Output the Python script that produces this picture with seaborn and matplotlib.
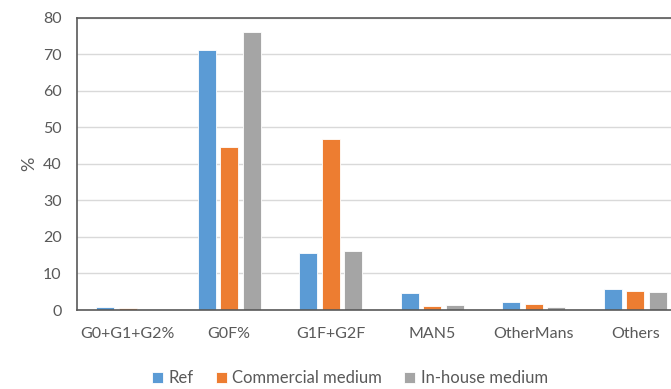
#!/usr/bin/env python3
"""
Glycan profile comparison bar chart (Ref vs. media).
"""
import pandas as pd
import matplotlib
matplotlib.use("Agg")
import matplotlib.pyplot as plt
import seaborn as sns

# Data
categories = ["G0+G1+G2%", "G0F%", "G1F+G2F", "MAN5", "OtherMans", "Others"]
series = ["Ref", "Commercial medium", "In-house medium"]
ref_values = [0.8, 71.0, 15.5, 4.6, 2.2, 5.7]
commercial_values = [0.5, 44.5, 46.8, 1.1, 1.7, 5.2]
inhouse_values = [0.4, 76.0, 16.2, 1.4, 0.8, 4.8]
y_ticks = [0, 10, 20, 30, 40, 50, 60, 70, 80]

colors = ["#5B9BD5", "#ED7D31", "#A5A5A5"]
text_color = "#595959"

# Long-form table for seaborn
df = pd.DataFrame({
    "category": categories * 3,
    "series": [series[0]] * 6 + [series[1]] * 6 + [series[2]] * 6,
    "value": ref_values + commercial_values + inhouse_values,
})

sns.set_style("white")
plt.rcParams["font.family"] = ["Lato", "DejaVu Sans"]

fig = plt.figure(figsize=(6.71, 3.89), dpi=100)
# axes run a bit past the right edge, as in the cropped original
ax = fig.add_axes([77 / 671, 1 - 310 / 389, (686 - 77) / 671, (310 - 17.5) / 389])

sns.barplot(
    data=df, x="category", y="value", hue="series",
    order=categories, hue_order=series, palette=colors,
    width=0.666, gap=0.2, saturation=1, ax=ax,
    edgecolor="white", linewidth=0.6,
)

ax.set_ylim(0, 80)
ax.set_xlim(-0.5, len(categories) - 0.5)
ax.set_yticks(y_ticks)
ax.yaxis.grid(True, color="#D9D9D9", linewidth=1)
ax.set_axisbelow(True)
for side in ["left", "right", "top", "bottom"]:
    ax.spines[side].set_visible(True)
    ax.spines[side].set_color("#595959")
    ax.spines[side].set_linewidth(1.2)

ax.tick_params(axis="both", length=0, colors=text_color, labelsize=11.5)
ax.tick_params(axis="x", pad=12)
ax.tick_params(axis="y", pad=11)
ax.set_xlabel("")
ax.set_ylabel("%", color=text_color, fontsize=13, labelpad=4)

ax.legend_.remove()
handles, labels = ax.get_legend_handles_labels()
fig.legend(
    handles, labels, loc="center", bbox_to_anchor=(350 / 671, 1 - 378 / 389),
    ncol=3, frameon=False, fontsize=12, labelcolor=text_color,
    handlelength=0.65, handleheight=0.65, handletextpad=0.35, columnspacing=1.3,
)

fig.savefig("out.png", dpi=100)
plt.close(fig)
